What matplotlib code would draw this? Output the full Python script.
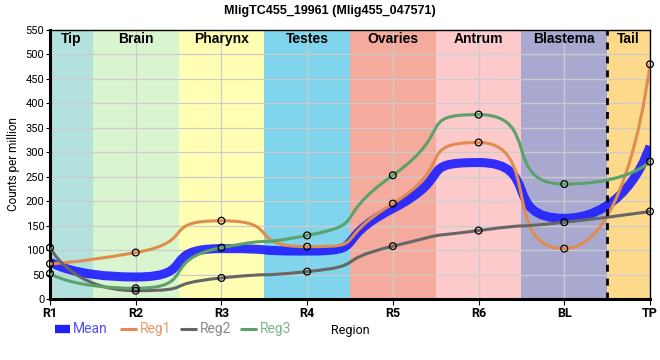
import numpy as np
import matplotlib
matplotlib.use("Agg")
import matplotlib.pyplot as plt
from matplotlib.path import Path
from matplotlib.patches import PathPatch
from matplotlib.lines import Line2D

plt.rcParams['font.family'] = ['Roboto', 'DejaVu Sans']

# Data
regions = ["R1", "R2", "R3", "R4", "R5", "R6", "BL", "TP"]
reg1 = [72, 95, 160, 107, 195, 320, 103, 480]
reg2 = [105, 17, 43, 56, 108, 140, 157, 179]
reg3 = [52, 22, 105, 130, 253, 377, 235, 281]
mean = [76, 45, 103, 98, 185, 279, 165, 313]

band_names = ["Tip", "Brain", "Pharynx", "Testes", "Ovaries", "Antrum", "Blastema", "Tail"]
band_colors = ["#b3e2de", "#d9f5d0", "#ffffb3", "#80d4ec", "#f4aa9c", "#fccaca", "#a9a9d0", "#fdd98b"]

series_colors = {"Mean": "#2020ff", "Reg1": "#e08c4e", "Reg2": "#666666", "Reg3": "#5aa26a"}
label_colors = {"Mean": "#5050ff", "Reg1": "#e59a66", "Reg2": "#8a8a8a", "Reg3": "#79b886"}


def smooth_path(x, y, k=0.75):
    # spline with control points on a line through each point (flattened at extremes),
    # end points used as their own control points
    x = np.asarray(x, float)
    y = np.asarray(y, float)
    n = len(x)
    left = [(x[0], y[0])] * n
    right = [(x[0], y[0])] * n
    for i in range(1, n - 1):
        lx = x[i] - k * (x[i] - x[i - 1])
        ly = y[i] - k * (y[i] - y[i - 1])
        rx = x[i] + k * (x[i + 1] - x[i])
        ry = y[i] + k * (y[i + 1] - y[i])
        corr = (ry - ly) * (rx - x[i]) / (rx - lx) + y[i] - ry
        ly += corr
        ry += corr
        if ly > y[i - 1] and ly > y[i]:
            ly = max(y[i - 1], y[i])
            ry = 2 * y[i] - ly
        elif ly < y[i - 1] and ly < y[i]:
            ly = min(y[i - 1], y[i])
            ry = 2 * y[i] - ly
        if ry > y[i + 1] and ry > y[i]:
            ry = max(y[i + 1], y[i])
            ly = 2 * y[i] - ry
        elif ry < y[i + 1] and ry < y[i]:
            ry = min(y[i + 1], y[i])
            ly = 2 * y[i] - ry
        left[i] = (lx, ly)
        right[i] = (rx, ry)
    right[0] = (x[0], y[0])
    left[-1] = (x[-1], y[-1])
    verts = [(x[0], y[0])]
    codes = [Path.MOVETO]
    for i in range(n - 1):
        verts += [right[i], left[i + 1], (x[i + 1], y[i + 1])]
        codes += [Path.CURVE4] * 3
    return Path(verts, codes)


fig = plt.figure(figsize=(6.6, 3.6), dpi=100)
ax = fig.add_axes([50 / 660, 1 - 299 / 360, 600 / 660, 269 / 360])
xs = np.arange(len(regions))

for i, (name, c) in enumerate(zip(band_names, band_colors)):
    ax.axvspan(i - 0.5, i + 0.5, color=c, lw=0, zorder=0)
    ax.text(min(max(i, 0.25), 6.75), 532, name, ha="center", va="center",
            fontsize=10, fontweight="bold", family=["Liberation Sans"], zorder=5)

ax.axvline(6.5, color="black", ls=(0, (2.5, 2.5)), lw=2, zorder=4)

ax.add_patch(PathPatch(smooth_path(xs, mean), fc="none", ec=series_colors["Mean"], lw=6.5,
                       alpha=0.92, zorder=2, capstyle="butt"))
for key, vals in [("Reg1", reg1), ("Reg2", reg2), ("Reg3", reg3)]:
    ax.add_patch(PathPatch(smooth_path(xs, vals), fc="none", ec=series_colors[key], lw=2.2, zorder=3))
    ax.scatter(xs, vals, s=24, facecolors="none", edgecolors="black", lw=0.9, zorder=6, clip_on=False)

ax.set_xlim(0, 7)
ax.set_ylim(0, 550)
ax.set_xticks(xs)
ax.set_xticklabels(regions, fontweight="bold", fontsize=9)
ax.set_yticks(np.arange(0, 551, 50))
ax.tick_params(axis="y", labelsize=8, length=3, pad=1)
ax.tick_params(axis="x", length=4, pad=2)
ax.grid(True, color="#cccccc", lw=0.9)
for gl in ax.get_xgridlines() + ax.get_ygridlines():
    gl.set_zorder(1)
ax.set_ylabel("Counts per million", fontsize=8.5, labelpad=4)
ax.set_xlabel("Region", fontsize=9, labelpad=2.5)
for side in ["left", "bottom"]:
    ax.spines[side].set_linewidth(2.2)
for side in ["top", "right"]:
    ax.spines[side].set_linewidth(1)

fig.suptitle("MligTC455_19961 (Mlig455_047571)", y=0.985, fontsize=9, fontweight="bold", family=["Liberation Sans"])

# legend row under the axis
ly = 1 - 329 / 360
legend_items = [("Mean", 55, 70, 6), ("Reg1", 120, 137, 2.2), ("Reg2", 180, 197, 2.2), ("Reg3", 240, 257, 2.2)]
for key, x0, x1, lw in legend_items:
    fig.add_artist(Line2D([x0 / 660, x1 / 660], [ly, ly], color=series_colors[key], lw=lw,
                          solid_capstyle="butt", transform=fig.transFigure))
    fig.text((x1 + 3) / 660, ly, key, color=label_colors[key], fontsize=10, va="center", ha="left")

fig.savefig("out.png", dpi=100)
